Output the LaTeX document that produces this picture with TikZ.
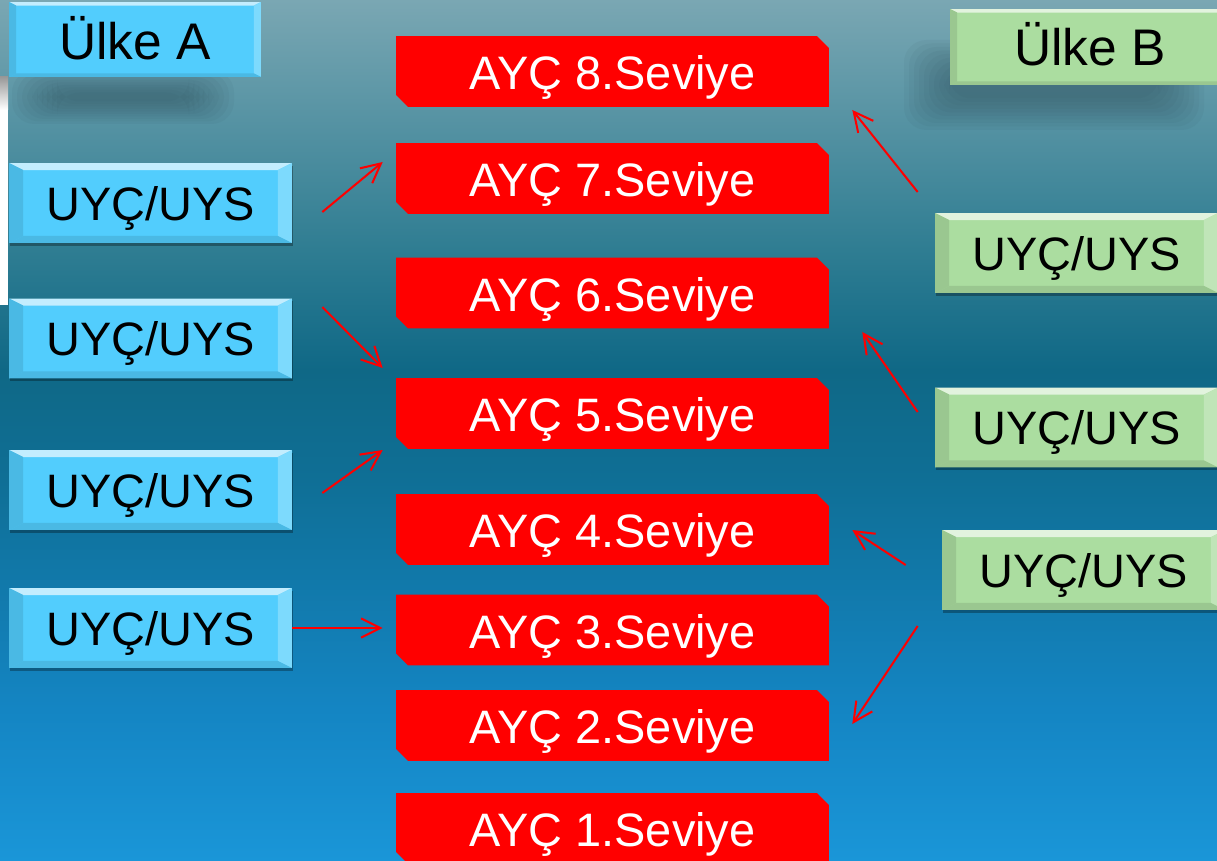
\documentclass[tikz,border=0pt]{standalone}
\usepackage{fontspec}
\setmainfont{Liberation Sans}
\usepackage{tikz}
\usetikzlibrary{shapes.misc,shadows,arrows.meta,calc}

\definecolor{bgtop}{HTML}{7AA7B3}
\definecolor{bgA}{HTML}{2F7D92}
\definecolor{bgB}{HTML}{0F6886}
\definecolor{bgC}{HTML}{0F6F96}
\definecolor{bgD}{HTML}{1485C3}
\definecolor{bgbot}{HTML}{1A96D8}
\definecolor{aycred}{HTML}{FF0000}
\definecolor{ulkeblue}{HTML}{52CDFD}
\definecolor{ulkegreen}{HTML}{ABDDA0}
\definecolor{haze}{HTML}{2A4A56}

\pgfdeclareverticalshading{slidebg}{100bp}{color(0bp)=(bgbot); color(25bp)=(bgbot); color(33.8bp)=(bgD); color(47.1bp)=(bgC); color(53.5bp)=(bgB); color(60.5bp)=(bgA); color(75bp)=(bgtop); color(100bp)=(bgtop)}

\newcommand\boxfont{\fontsize{26.7}{30}\selectfont}
\newcommand\headfont{\fontsize{29.3}{34}\selectfont}

\begin{document}
\begin{tikzpicture}[x=0.02cm,y=-0.02cm,
  ayc/.style={chamfered rectangle,chamfered rectangle corners={north east,south west},
    chamfered rectangle xsep=0.12cm,chamfered rectangle ysep=0.12cm,
    fill=aycred,text=white,minimum width=8.66cm,minimum height=1.42cm,inner sep=0pt,
    text height=21pt,text depth=0pt,font=\boxfont},
  bevel/.style 2 args={fill=#1,
    path picture={
      \coordinate (pnw) at (path picture bounding box.north west);
      \coordinate (pne) at (path picture bounding box.north east);
      \coordinate (psw) at (path picture bounding box.south west);
      \coordinate (pse) at (path picture bounding box.south east);
      \coordinate (inw) at ([shift={(#2,-#2/2)}]pnw);
      \coordinate (ine) at ([shift={(-#2,-#2/2)}]pne);
      \coordinate (isw) at ([shift={(#2,#2/2)}]psw);
      \coordinate (ise) at ([shift={(-#2,#2/2)}]pse);
      \fill[#1!35!white] (pnw) -- (pne) -- (ine) -- (inw) -- cycle;
      \fill[#1!90!black] (pnw) -- (inw) -- (isw) -- (psw) -- cycle;
      \fill[#1!75!white] (pne) -- (ine) -- (ise) -- (pse) -- cycle;
      \fill[#1!90!black] (psw) -- (isw) -- (ise) -- (pse) -- cycle;
    }},
  uyc/.style={minimum width=5.66cm,minimum height=1.6cm,inner sep=0pt,font=\boxfont,
    text height=19.5pt,text depth=0pt,
    drop shadow={shadow xshift=0.5pt,shadow yshift=-1.5pt,opacity=0.3,fill=black}},
  ulke/.style={minimum height=1.52cm,inner sep=0pt,text depth=0pt,font=\headfont},
  link/.style={red,line width=1.15pt,-{Straight Barb[length=11pt,width=11pt]}},
  mist/.style={haze,opacity=0.06,rounded corners=0.45cm}]

\useasboundingbox (0,0) rectangle (1217,861);
\clip (0,0) rectangle (1217,861);
\shade[shading=slidebg] (0,0) rectangle (1217,861);

% strip on the left edge
\shade[top color=black!40,bottom color=white] (0,77) rectangle (8,110);
\fill[white] (0,110) rectangle (8,305);

% soft shadows below the headings
\foreach \k in {0,...,9}{%
  \fill[mist] (12+\k*5,70+\k*2.5) rectangle (234-\k*5,124-\k*2.5);
  \fill[mist] (904+\k*5,40+\k*3.5) rectangle (1204-\k*5,130-\k*3.5);}

\node[ulke,bevel={ulkeblue}{0.14cm},minimum width=5.04cm,minimum height=1.5cm,text height=23.3pt] (ua) at (135,39.5) {Ülke A};
\node[ulke,bevel={ulkegreen}{0.14cm},minimum width=5.6cm,text height=20.5pt] (ub) at (1090,47) {Ülke B};

\foreach \n/\y in {8/71.5,7/178.5,6/293,5/413.5,4/529.5,3/630,2/725.5,1/828.5}
  \node[ayc] (a\n) at (612.5,\y) {AYÇ \n.Seviye};

\foreach \i/\y in {1/203,2/338.5,3/490,4/628}
  \node[uyc,bevel={ulkeblue}{0.28cm}] (l\i) at (150.5,\y) {UYÇ/UYS};

\node[uyc,bevel={ulkegreen}{0.28cm}] (r1) at (1076.5,253) {UYÇ/UYS};
\node[uyc,bevel={ulkegreen}{0.28cm}] (r2) at (1076.5,427.5) {UYÇ/UYS};
\node[uyc,bevel={ulkegreen}{0.28cm}] (r3) at (1083.5,570) {UYÇ/UYS};

\draw[link] ($(l1.east)+(30,9)$) -- ($(a7.west)+(-13,-16.5)$);
\draw[link] ($(l2.east)+(30,-31.5)$) -- ($(a5.west)+(-13,-45.5)$);
\draw[link] ($(l3.east)+(30,3)$) -- ($(a5.west)+(-13,36.5)$);
\draw[link,shorten >=0.26cm] (l4.east) -- (l4.east -| a3.west);

\draw[link] ($(r1.west)+(-17,-61)$) -- ($(a8.east)+(23,38.5)$);
\draw[link] ($(r2.west)+(-17,-15.5)$) -- ($(a6.east)+(33,39)$);
\draw[link] ($(r3.west)+(-36,-5)$) -- ($(a4.east)+(23,0.5)$);
\draw[link] ($(r3.west)+(-24,56)$) -- ($(a2.east)+(23,-1.5)$);
\end{tikzpicture}
\end{document}
